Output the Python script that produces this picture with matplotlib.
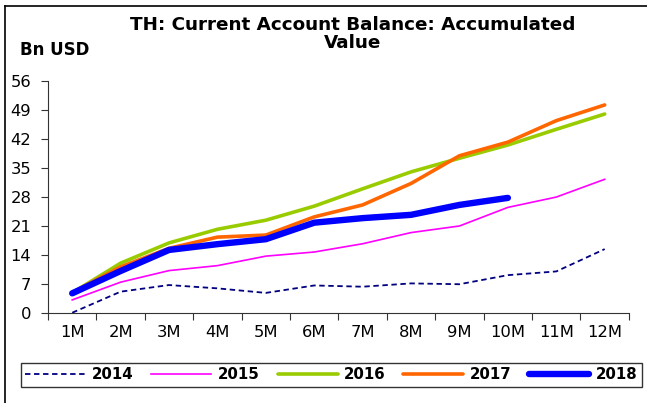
import matplotlib.pyplot as plt
import numpy as np
from matplotlib.lines import Line2D

plt.rcParams['font.family'] = ['DejaVu Sans']

months = ['1M', '2M', '3M', '4M', '5M', '6M', '7M', '8M', '9M', '10M', '11M', '12M']

y2014 = [0.0, 5.1, 6.7, 5.9, 4.8, 6.6, 6.3, 7.1, 6.9, 9.1, 10.0, 15.4]
y2015 = [3.1, 7.4, 10.2, 11.4, 13.7, 14.7, 16.7, 19.4, 21.0, 25.5, 28.0, 32.3]
y2016 = [4.8, 12.0, 16.9, 20.2, 22.4, 25.8, 30.0, 34.1, 37.4, 40.6, 44.4, 48.1]
y2017 = [4.9, 11.1, 15.6, 18.3, 18.8, 23.2, 26.1, 31.3, 38.0, 41.3, 46.5, 50.3]
y2018 = [4.7, 10.1, 15.2, 16.6, 17.8, 21.8, 22.9, 23.7, 26.1, 27.8]

fig = plt.figure(figsize=(6.47, 4.03), dpi=100)
ax = fig.add_axes([0.0742, 0.224, 0.8978, 0.574])

x = np.arange(len(months)) + 0.5
ax.plot(x, y2014, color='#000080', lw=1.3, ls=(0, (3, 2)), label='2014')
ax.plot(x, y2015, color='#FF00FF', lw=1.2, label='2015')
ax.plot(x, y2016, color='#99CC00', lw=2.6, label='2016', solid_capstyle='round')
ax.plot(x, y2017, color='#FF6600', lw=2.6, label='2017', solid_capstyle='round')
ax.plot(x[:len(y2018)], y2018, color='#0000FF', lw=4.6, label='2018',
        solid_capstyle='round', solid_joinstyle='round')

ax.set_xlim(0, 12)
ax.set_ylim(0, 56)
ax.set_yticks(np.arange(0, 57, 7))
ax.set_xticks(np.arange(0, 13))
ax.set_xticklabels([])
ax.set_xticks(x, minor=True)
ax.set_xticklabels(months, minor=True)
ax.tick_params(axis='x', which='minor', length=0, pad=9, labelsize=11.8)
ax.tick_params(axis='x', which='major', length=5, direction='out', color='#333333')
ax.tick_params(axis='y', length=5, direction='out', labelsize=11.8, color='#333333', pad=7)
for side in ['top', 'right']:
    ax.spines[side].set_visible(False)
for side in ['left', 'bottom']:
    ax.spines[side].set_color('#333333')

fig.text(0.545, 0.916, 'TH: Current Account Balance: Accumulated\nValue',
         ha='center', va='center', fontsize=13.2, fontweight='bold', linespacing=1.0)
fig.text(0.031, 0.877, 'Bn USD', ha='left', va='center', fontsize=12, fontweight='bold')

handles, labels = ax.get_legend_handles_labels()
leg = fig.legend(handles, labels, loc='center', bbox_to_anchor=(0.512, 0.0695), ncol=5,
                 frameon=True, fancybox=False, edgecolor='black', handlelength=4.0,
                 handletextpad=0.4, columnspacing=1.22, borderpad=0.3,
                 prop={'weight': 'bold', 'size': 10.8})
leg.get_frame().set_linewidth(1.0)

# outer frame lines
fig.add_artist(Line2D([5 / 647, 5 / 647], [0, 1 - 6 / 403], color='black', lw=1.2))
fig.add_artist(Line2D([5 / 647, 1], [1 - 6 / 403, 1 - 6 / 403], color='black', lw=1.2))

fig.savefig('out.png', dpi=100)
